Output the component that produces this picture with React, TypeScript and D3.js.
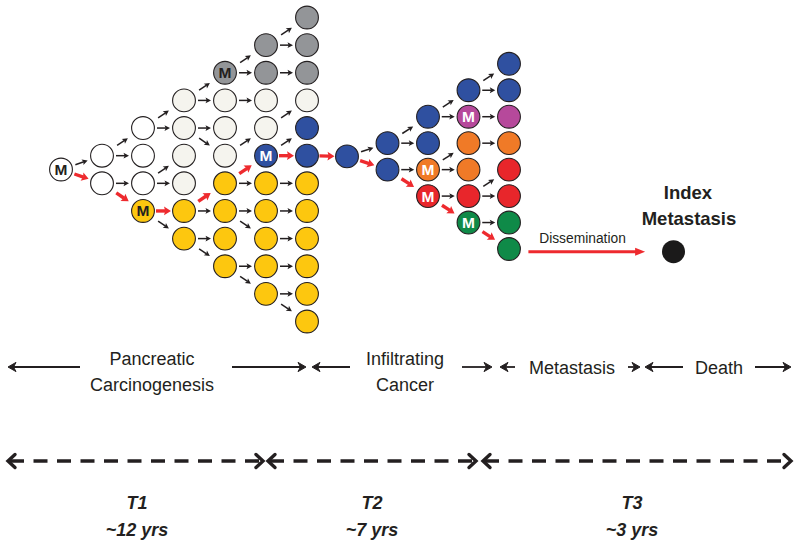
import React from "react";
import * as d3 from "d3";

// ---------- data ----------
// [column, row (half-steps), fill key, mutation "M" label]
const stage1Nodes: [number, number, string, number][] = [
  [0, 0, "w", 1],
  [1, -1, "w", 0], [1, 1, "w", 0],
  [2, -3, "w", 0], [2, -1, "w", 0], [2, 1, "w", 0], [2, 3, "y", 1],
  [3, -5, "o", 0], [3, -3, "o", 0], [3, -1, "o", 0], [3, 1, "o", 0], [3, 3, "y", 0], [3, 5, "y", 0],
  [4, -7, "g", 1], [4, -5, "o", 0], [4, -3, "o", 0], [4, -1, "o", 0], [4, 1, "y", 0], [4, 3, "y", 0], [4, 5, "y", 0], [4, 7, "y", 0],
  [5, -9, "g", 0], [5, -7, "g", 0], [5, -5, "o", 0], [5, -3, "o", 0], [5, -1, "b", 1], [5, 1, "y", 0], [5, 3, "y", 0], [5, 5, "y", 0], [5, 7, "y", 0], [5, 9, "y", 0],
  [6, -11, "g", 0], [6, -9, "g", 0], [6, -7, "g", 0], [6, -5, "o", 0], [6, -3, "b", 0], [6, -1, "b", 0],
  [6, 1, "y", 0], [6, 3, "y", 0], [6, 5, "y", 0], [6, 7, "y", 0], [6, 9, "y", 0], [6, 11, "y", 0],
];

const stage2Nodes: [number, number, string, number][] = [
  [7, 0, "b", 0],
  [8, -1, "b", 0], [8, 1, "b", 0],
  [9, -3, "b", 0], [9, -1, "b", 0], [9, 1, "or", 1], [9, 3, "r", 1],
  [10, -5, "b", 0], [10, -3, "p", 1], [10, -1, "or", 0], [10, 1, "or", 0], [10, 3, "r", 0], [10, 5, "gr", 1],
  [11, -7, "b", 0], [11, -5, "b", 0], [11, -3, "p", 0], [11, -1, "or", 0], [11, 1, "r", 0], [11, 3, "r", 0], [11, 5, "gr", 0], [11, 7, "gr", 0],
];

// [from column, from row, to row (in column+1), red]
const stage1Edges: [number, number, number, number][] = [
  [0, 0, -1, 0], [0, 0, 1, 1],
  [1, -1, -3, 0], [1, -1, -1, 0], [1, 1, 1, 0], [1, 1, 3, 1],
  [2, -3, -5, 0], [2, -3, -3, 0], [2, 1, -1, 0], [2, 1, 1, 0], [2, 3, 3, 1], [2, 3, 5, 0],
  [3, -5, -7, 0], [3, -5, -5, 0], [3, -3, -3, 0], [3, -3, -1, 0], [3, 3, 1, 1], [3, 3, 3, 0], [3, 5, 5, 0], [3, 5, 7, 0],
  [4, -7, -9, 0], [4, -7, -7, 0], [4, -5, -5, 0], [4, -1, -3, 0], [4, 1, -1, 1], [4, 1, 1, 0], [4, 3, 3, 0], [4, 3, 5, 0], [4, 7, 7, 0], [4, 7, 9, 0],
  [5, -9, -11, 0], [5, -9, -9, 0], [5, -7, -7, 0], [5, -3, -5, 0], [5, -1, -3, 0], [5, -1, -1, 1], [5, 1, 1, 0], [5, 3, 3, 0], [5, 5, 5, 0], [5, 7, 7, 0], [5, 9, 9, 0], [5, 9, 11, 0],
  [6, -1, 0, 1],
];

const stage2Edges: [number, number, number, number][] = [
  [7, 0, -1, 0], [7, 0, 1, 1],
  [8, -1, -3, 0], [8, -1, -1, 0], [8, 1, 1, 0], [8, 1, 3, 1],
  [9, -3, -5, 0], [9, -3, -3, 0], [9, 1, -1, 0], [9, 1, 1, 0], [9, 3, 3, 0], [9, 3, 5, 1],
  [10, -5, -7, 0], [10, -5, -5, 0], [10, -3, -3, 0], [10, -1, -1, 0], [10, 3, 1, 0], [10, 3, 3, 0], [10, 5, 5, 0], [10, 5, 7, 1],
];

const phaseLabels: [string[], number][] = [
  [["Pancreatic", "Carcinogenesis"], 152],
  [["Infiltrating", "Cancer"], 405],
  [["Metastasis"], 572],
  [["Death"], 719],
];
// [tail x, tip x]
const phaseArrows: [number, number][] = [
  [80, 8], [232, 306], [350, 312], [462, 492], [515, 500], [628, 640], [683, 645], [755, 791],
];
// [left tip, right tip]
const periodSpans: [number, number][] = [[8, 263], [268, 476], [483, 791]];
const periodLabels: [string, string, number][] = [
  ["T1", "~12 yrs", 137],
  ["T2", "~7 yrs", 372],
  ["T3", "~3 yrs", 632],
];

const FILL: Record<string, string> = {
  w: "#ffffff",
  o: "#f5f4ee",
  g: "#939598",
  y: "#fdc70f",
  b: "#2f50a0",
  p: "#b6499b",
  or: "#f07a27",
  r: "#e8262b",
  gr: "#0f8a48",
};
const DARK_LABEL = new Set(["w", "o", "g", "y"]);

const INK = "#231f20";
const RED = "#ee2a2e";
const FONT = "'Liberation Sans', Arial, Helvetica, sans-serif";
const R = 11.4;

// ---------- scales ----------
const x1 = d3.scaleLinear().domain([0, 6]).range([61, 307]);
const y1 = d3.scaleLinear().domain([-11, 11]).range([17.5, 321.5]);
const x2 = d3.scaleLinear().domain([7, 11]).range([347, 509]);
const y2 = d3.scaleLinear().domain([-7, 7]).range([63.8, 249]);

const pos = (c: number, r: number): [number, number] =>
  c <= 6 ? [x1(c), y1(r)] : [x2(c), y2(r)];

function Arrow({ a, b, len, red }: { a: [number, number]; b: [number, number]; len: number; red: boolean }) {
  const dx = b[0] - a[0], dy = b[1] - a[1];
  const d = Math.hypot(dx, dy);
  const ux = dx / d, uy = dy / d;
  const mx = (a[0] + b[0]) / 2, my = (a[1] + b[1]) / 2;
  const sx = mx - ux * len / 2, sy = my - uy * len / 2;
  const tx = mx + ux * len / 2, ty = my + uy * len / 2;
  const hl = red ? 7 : 5.5;
  const hw = red ? 4.4 : 2.9;
  const bx = tx - ux * hl, by = ty - uy * hl;
  const px = -uy, py = ux;
  const col = red ? RED : INK;
  const head = `M${tx},${ty}L${bx + px * hw},${by + py * hw}L${bx + ux * 1.2},${by + uy * 1.2}L${bx - px * hw},${by - py * hw}Z`;
  return (
    <g>
      <line x1={sx} y1={sy} x2={bx + ux * 1.5} y2={by + uy * 1.5} stroke={col} strokeWidth={red ? 3.4 : 1.5} />
      <path d={head} fill={col} />
    </g>
  );
}

function Node({ c, r, k, m }: { c: number; r: number; k: string; m: number }) {
  const [cx, cy] = pos(c, r);
  return (
    <g>
      <circle cx={cx} cy={cy} r={R} fill={FILL[k]} stroke={INK} strokeWidth={1.1} />
      {m ? (
        <text x={cx} y={cy + 5.5} textAnchor="middle" fontFamily={FONT} fontWeight="bold" fontSize={15.5}
          fill={DARK_LABEL.has(k) ? INK : "#ffffff"}>M</text>
      ) : null}
    </g>
  );
}

function Chevron({ x, y, dir, w, h, sw }: { x: number; y: number; dir: number; w: number; h: number; sw: number }) {
  return (
    <path d={`M${x - dir * w},${y - h}L${x},${y}L${x - dir * w},${y + h}`} fill="none" stroke={INK}
      strokeWidth={sw} strokeLinejoin="miter" strokeLinecap="round" />
  );
}

function SolidArrow({ from, to, y }: { from: number; to: number; y: number }) {
  const dir = to > from ? 1 : -1;
  const hl = 8, hw = 4.6;
  return (
    <g>
      <line x1={from} y1={y} x2={to - dir * 3} y2={y} stroke={INK} strokeWidth={1.8} />
      <path d={`M${to},${y}L${to - dir * hl},${y - hw}L${to - dir * (hl - 2.5)},${y}L${to - dir * hl},${y + hw}Z`}
        fill={INK} stroke={INK} strokeWidth={1} strokeLinejoin="round" />
    </g>
  );
}

export default function App() {
  const edges = [...stage1Edges, ...stage2Edges];
  const nodes = [...stage1Nodes, ...stage2Nodes];
  const last = pos(11, 7);
  const target: [number, number] = [673.5, 251.7];
  const rowY = 367;
  const dashY = 461;
  return (
    <svg width={800} height={550} style={{ position: "absolute", left: 0, top: 0, background: "#fff" }}>
      <rect width={800} height={550} fill="#ffffff" />
      {edges.map(([c, fr, tr, red], i) => (
        <Arrow key={"e" + i} a={pos(c, fr)} b={pos(c + 1, tr)} len={red ? 15 : 13} red={!!red} />
      ))}
      {nodes.map(([c, r, k, m], i) => (
        <Node key={"n" + i} c={c} r={r} k={k} m={m} />
      ))}

      {/* dissemination */}
      <line x1={last[0] + R + 8} y1={target[1]} x2={target[0] - R - 24} y2={target[1]} stroke={RED} strokeWidth={3} />
      <path d={`M${target[0] - R - 17},${target[1]}L${target[0] - R - 27},${target[1] - 4}L${target[0] - R - 27},${target[1] + 4}Z`} fill={RED} />
      <circle cx={target[0]} cy={target[1]} r={11.5} fill="#1b1a1a" />
      <text x={582.5} y={242.5} textAnchor="middle" fontFamily={FONT} fontSize={13.8} fill={INK}>Dissemination</text>
      <text x={688} y={199} textAnchor="middle" fontFamily={FONT} fontWeight="bold" fontSize={18.5} fill={INK}>Index</text>
      <text x={689} y={225} textAnchor="middle" fontFamily={FONT} fontWeight="bold" fontSize={18.5} fill={INK}>Metastasis</text>

      {/* phases */}
      {phaseArrows.map(([f, t], i) => (
        <SolidArrow key={"pa" + i} from={f} to={t} y={rowY} />
      ))}
      {phaseLabels.map(([lines, x], i) => (
        <g key={"pl" + i}>
          {lines.map((s, j) => (
            <text key={j} x={x} textAnchor="middle" fontFamily={FONT} fontSize={18} fill={INK}
              y={lines.length === 1 ? 373.5 : 365 + j * 25.5}>{s}</text>
          ))}
        </g>
      ))}

      {/* periods */}
      {periodSpans.map(([l, r], i) => (
        <g key={"ps" + i}>
          <line x1={l + 2} y1={dashY} x2={r - 2} y2={dashY} stroke={INK} strokeWidth={3.6} strokeDasharray="14,9.5" />
          <Chevron x={l} y={dashY} dir={-1} w={7} h={6.5} sw={3.4} />
          <Chevron x={r} y={dashY} dir={1} w={7} h={6.5} sw={3.4} />
        </g>
      ))}
      {periodLabels.map(([t, yrs, x], i) => (
        <g key={"pt" + i}>
          <text x={x} y={509} textAnchor="middle" fontFamily={FONT} fontWeight="bold" fontStyle="italic" fontSize={18} fill={INK}>{t}</text>
          <text x={x} y={536} textAnchor="middle" fontFamily={FONT} fontWeight="bold" fontStyle="italic" fontSize={18} fill={INK}>{yrs}</text>
        </g>
      ))}
    </svg>
  );
}
